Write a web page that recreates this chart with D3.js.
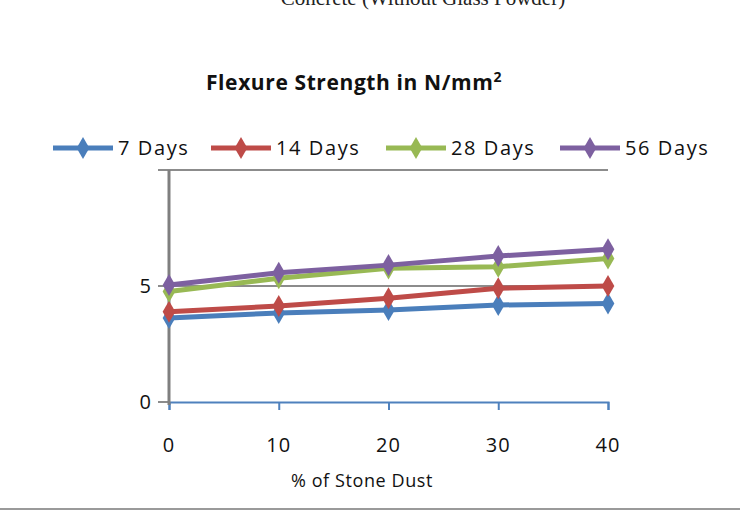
<!DOCTYPE html>
<html><head><meta charset="utf-8">
<script src="https://cdn.jsdelivr.net/npm/d3@7"></script>
<style>body{margin:0;background:#fff}svg{display:block}</style>
</head><body>
<script>
const xValues = [0, 10, 20, 30, 40];
const seriesNames = ["7 Days", "14 Days", "28 Days", "56 Days"];
const days7  = [3.62, 3.84, 3.97, 4.18, 4.25];
const days14 = [3.89, 4.14, 4.47, 4.90, 5.00];
const days28 = [4.76, 5.33, 5.76, 5.83, 6.19];
const days56 = [5.04, 5.57, 5.90, 6.29, 6.58];
const yTickLabels = [0, 5];
const colors = ["#4a7ebb", "#be4b48", "#98b954", "#7d60a0"];

const series = [days7, days14, days28, days56].map((v, i) => ({name: seriesNames[i], values: v, color: colors[i]}));

const W = 749, H = 512;
const svg = d3.select("body").append("svg").attr("width", W).attr("height", H);

const x = d3.scaleLinear().domain([0, 40]).range([169, 608]);
const y = d3.scaleLinear().domain([0, 10]).range([402, 170]);

// partial top caption (cut off at top, as in the source)
svg.append("text").attr("x", 423).attr("y", 5).attr("text-anchor", "middle")
  .attr("font-family", "Liberation Serif, serif").attr("font-size", 21).attr("fill", "#222")
  .text("Concrete (Without Glass Powder)");

// chart title
const t = svg.append("text").attr("x", 354).attr("y", 90).attr("text-anchor", "middle")
  .attr("font-family", "Open Sans, sans-serif").attr("font-weight", "bold").attr("font-size", 21)
  .attr("letter-spacing", "0.6").attr("fill", "#111");
t.append("tspan").text("Flexure Strength in N/mm");
t.append("tspan").attr("font-size", 14).attr("dy", -8).text("2");

// gridlines
svg.append("g").selectAll("line").data([5, 10]).join("line")
  .attr("x1", 158).attr("x2", 608).attr("y1", d => y(d)).attr("y2", d => y(d))
  .attr("stroke", "#8c8c8c").attr("stroke-width", 2);

// x axis (blue)
const xAxis = svg.append("g").attr("transform", `translate(0,${y(0)})`)
  .call(d3.axisBottom(x).tickValues(xValues).tickSize(8).tickFormat(""));
xAxis.select(".domain").attr("stroke", "#4f81bd").attr("stroke-width", 2);
xAxis.selectAll(".tick line").attr("stroke", "#4f81bd").attr("stroke-width", 2);
svg.append("line").attr("x1", 158).attr("x2", 169).attr("y1", y(0)).attr("y2", y(0))
  .attr("stroke", "#8c8c8c").attr("stroke-width", 2);

// x tick labels
svg.append("g").selectAll("text").data(xValues).join("text")
  .attr("x", d => x(d)).attr("y", 452).attr("text-anchor", "middle")
  .attr("font-family", "Open Sans, sans-serif").attr("font-size", 20).attr("letter-spacing", "1")
  .attr("fill", "#111").text(d => d);

// y axis (grey)
svg.append("line").attr("x1", x(0)).attr("x2", x(0)).attr("y1", y(10)).attr("y2", y(0) + 3)
  .attr("stroke", "#7f7f7f").attr("stroke-width", 3);
svg.append("g").selectAll("text").data(yTickLabels).join("text")
  .attr("x", 151).attr("y", d => y(d) + 7).attr("text-anchor", "end")
  .attr("font-family", "Open Sans, sans-serif").attr("font-size", 20).attr("fill", "#111")
  .text(d => d);

// axis title
svg.append("text").attr("x", 362).attr("y", 487).attr("text-anchor", "middle")
  .attr("font-family", "Open Sans, sans-serif").attr("font-size", 18).attr("letter-spacing", "0.6")
  .attr("fill", "#111").text("% of Stone Dust");

// lines
const line = d3.line().x((d, i) => x(xValues[i])).y(d => y(d));
const diamond = d3.symbol().type(d3.symbolDiamond).size(140);
series.forEach(s => {
  const g = svg.append("g");
  g.append("path").attr("d", line(s.values)).attr("fill", "none")
    .attr("stroke", s.color).attr("stroke-width", 5).attr("stroke-linejoin", "round");
  g.selectAll("path.m").data(s.values).join("path").attr("class", "m")
    .attr("transform", (d, i) => `translate(${x(xValues[i])},${y(d)})`)
    .attr("d", diamond).attr("fill", s.color);
});

// legend
const legendX = [53, 211, 386, 560];
const lg = svg.append("g");
series.forEach((s, i) => {
  const g = lg.append("g").attr("transform", `translate(${legendX[i]},148)`);
  g.append("line").attr("x1", 0).attr("x2", 60).attr("stroke", s.color).attr("stroke-width", 5);
  g.append("path").attr("transform", "translate(30,0)").attr("d", diamond).attr("fill", s.color);
  g.append("text").attr("x", 65).attr("y", 7).attr("font-family", "Open Sans, sans-serif")
    .attr("font-size", 20).attr("letter-spacing", "1.6").attr("fill", "#111").text(s.name);
});

// bottom rule
svg.append("line").attr("x1", 0).attr("x2", 740).attr("y1", 509).attr("y2", 509)
  .attr("stroke", "#9a9a9a").attr("stroke-width", 2);
</script>
</body></html>
